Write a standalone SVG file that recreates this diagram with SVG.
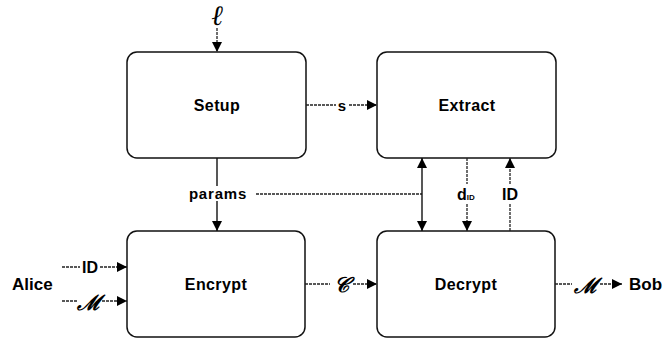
<svg xmlns="http://www.w3.org/2000/svg" width="669" height="340" viewBox="0 0 669 340">
  <style>
    .box { fill: #ffffff; stroke: #111111; stroke-width: 1.5; }
    .title { font-family: "Liberation Sans", Arial, sans-serif; font-weight: bold; font-size: 16px; letter-spacing: 0.4px; fill: #000000; text-anchor: middle; dominant-baseline: central; }
    .lbl { font-family: "Liberation Sans", Arial, sans-serif; font-weight: bold; font-size: 15px; fill: #000000; dominant-baseline: central; }
    .big { font-size: 17px; }
    .mid { font-size: 16px; }
    .wide { letter-spacing: 0.8px; }
    .math { font-family: "DejaVu Serif", "Liberation Serif", serif; font-style: italic; font-weight: bold; font-size: 21px; fill: #000000; text-anchor: middle; dominant-baseline: central; }
    .ell { font-family: "Liberation Serif", serif; font-size: 28px; font-weight: normal; }
    .line { fill: none; stroke: #111111; stroke-width: 1.4; }
    .thin { fill: none; stroke: #222222; stroke-width: 1.3; stroke-dasharray: 3 1; }
  </style>
  <defs>
    <marker id="arr" viewBox="0 0 10 10" refX="10" refY="5" markerWidth="10" markerHeight="10" markerUnits="userSpaceOnUse" orient="auto-start-reverse">
      <path d="M0,0 L10,5 L0,10 z" fill="#000000"/>
    </marker>
  </defs>

  <!-- nodes -->
  <g id="setup">
    <rect class="box" x="127" y="52" width="179" height="106" rx="10"/>
    <text class="title" x="217" y="105">Setup</text>
  </g>
  <g id="extract">
    <rect class="box" x="377" y="52" width="179" height="106" rx="10"/>
    <text class="title" x="467" y="105">Extract</text>
  </g>
  <g id="encrypt">
    <rect class="box" x="127" y="231" width="178" height="106" rx="10"/>
    <text class="title" x="216" y="284">Encrypt</text>
  </g>
  <g id="decrypt">
    <rect class="box" x="377" y="231" width="178" height="106" rx="10"/>
    <text class="title" x="466" y="284">Decrypt</text>
  </g>
  <g id="alice">
    <text class="lbl big" x="12" y="284">Alice</text>
  </g>
  <g id="bob">
    <text class="lbl big" x="629" y="284">Bob</text>
  </g>

  <!-- connectors -->
  <g id="connectors">
    <!-- security parameter into Setup -->
    <text class="math ell" x="217" y="15">ℓ</text>
    <path class="thin" d="M217,28 V52" marker-end="url(#arr)"/>

    <!-- master secret s: Setup -> Extract -->
    <path class="thin" d="M306,105 H336"/>
    <text class="lbl" x="342" y="105" text-anchor="middle">s</text>
    <path class="thin" d="M349,105 H377" marker-end="url(#arr)"/>

    <!-- params: Setup -> Encrypt, and across to Decrypt/Extract -->
    <path class="line" d="M217,158 V186"/>
    <text class="lbl wide" x="218" y="193" text-anchor="middle">params</text>
    <path class="line" d="M217,201 V231" marker-end="url(#arr)"/>
    <path class="thin" d="M256,194 H422"/>
    <path class="line" d="M422,158 V231" marker-start="url(#arr)" marker-end="url(#arr)"/>

    <!-- private key d_ID: Extract -> Decrypt -->
    <path class="thin" d="M467,158 V184"/>
    <text class="lbl mid" x="457" y="194">d<tspan style="font-size:8px" dy="3">ID</tspan></text>
    <path class="thin" d="M467,204 V231" marker-end="url(#arr)"/>

    <!-- identity ID: Decrypt -> Extract -->
    <path class="thin" d="M510,231 V204"/>
    <text class="lbl mid" x="510" y="194" text-anchor="middle">ID</text>
    <path class="thin" d="M510,184 V158" marker-end="url(#arr)"/>

    <!-- Alice inputs to Encrypt -->
    <path class="thin" d="M62,267 H80"/>
    <text class="lbl mid" x="90" y="267" text-anchor="middle">ID</text>
    <path class="thin" d="M100,267 H127" marker-end="url(#arr)"/>
    <path class="thin" d="M62,301 H77"/>
    <text class="math" x="89" y="302">ℳ</text>
    <path class="thin" d="M102,301 H127" marker-end="url(#arr)"/>

    <!-- ciphertext C: Encrypt -> Decrypt -->
    <path class="thin" d="M305,284 H330"/>
    <text class="math" x="341" y="284">𝒞</text>
    <path class="thin" d="M353,284 H377" marker-end="url(#arr)"/>

    <!-- recovered message to Bob -->
    <path class="thin" d="M555,284 H572"/>
    <text class="math" x="586" y="285">ℳ</text>
    <path class="thin" d="M600,284 H622" marker-end="url(#arr)"/>
  </g>
</svg>
